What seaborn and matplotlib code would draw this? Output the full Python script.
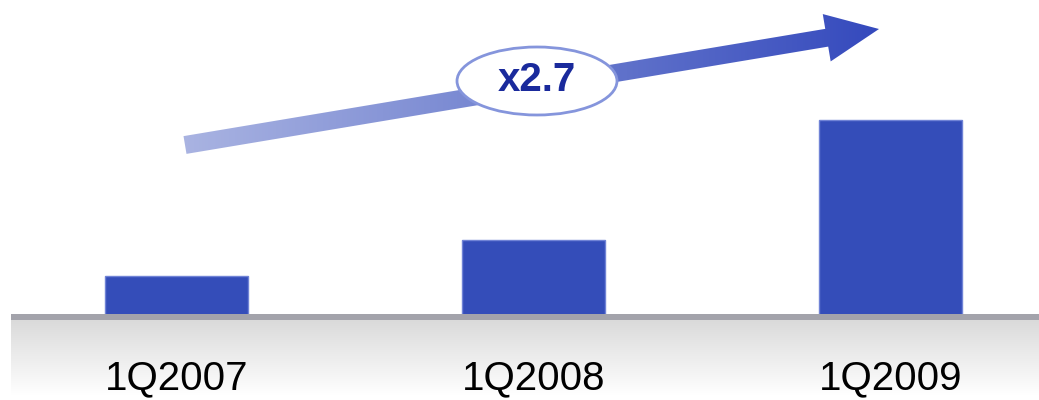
import numpy as np
import pandas as pd
import matplotlib
matplotlib.use("Agg")
import matplotlib.pyplot as plt
import seaborn as sns
from matplotlib.patches import Polygon, Ellipse, Rectangle
from matplotlib.colors import LinearSegmentedColormap

# ---- data ----
categories = ["1Q2007", "1Q2008", "1Q2009"]
values = [44, 80, 200]
growth_label = "x2.7"

sns.set_theme(style="white")
plt.rcParams["font.family"] = ["Liberation Sans", "DejaVu Sans"]

W, H = 1039, 400
fig = plt.figure(figsize=(W / 100, H / 100), dpi=100)

# background axes (pixel coords) for the grey gradient floor
bg = fig.add_axes([0, 0, 1, 1], zorder=0)
bg.set_xlim(0, W); bg.set_ylim(H, 0); bg.axis("off")
grad = np.linspace(0, 1, 256).reshape(-1, 1)
floor_cmap = LinearSegmentedColormap.from_list("floor", ["#d9d9d9", "#ffffff"])
bg.imshow(grad, cmap=floor_cmap, aspect="auto", extent=[11, W, 395, 318])

# main bar axes
ax = fig.add_axes([0, 80 / H, 1, 320 / H], zorder=1)
ax.patch.set_alpha(0)
df = pd.DataFrame({"period": categories, "value": values})
sns.barplot(data=df, x="period", y="value", color="#344db9", saturation=1,
            width=0.4, edgecolor="#7083d6", linewidth=1, ax=ax)
ax.set_xlim(-0.494, 2.416)
ax.set_ylim(0, 320)
ax.set_yticks([])
ax.set_xlabel(""); ax.set_ylabel("")
for s in ax.spines.values():
    s.set_visible(False)
ax.tick_params(axis="x", length=0, pad=28, labelsize=29, labelcolor="#000000")

# overlay axes: baseline, arrow, ellipse label
ov = fig.add_axes([0, 0, 1, 1], zorder=2)
ov.patch.set_alpha(0)
ov.set_xlim(0, W); ov.set_ylim(H, 0); ov.axis("off")
ov.add_patch(Rectangle((11, 314), W - 11, 6, facecolor="#a3a3ab", edgecolor="none"))

# arrow geometry (pixel coords)
tail = np.array([185.0, 145.0])
tip = np.array([879.0, 29.0])
d = (tip - tail) / np.linalg.norm(tip - tail)
n = np.array([-d[1], d[0]])
L = np.linalg.norm(tip - tail)
head_len, head_hw, shaft_hw = 53.0, 24.0, 9.0
base = tail + d * (L - head_len)
pts = [tail + n * shaft_hw, base + n * shaft_hw, base + n * head_hw, tip,
       base - n * head_hw, base - n * shaft_hw, tail - n * shaft_hw]
poly = Polygon(pts, closed=True, facecolor="none", edgecolor="none")
ov.add_patch(poly)
arrow_cmap = LinearSegmentedColormap.from_list("arr", ["#aab4e2", "#6f80cf", "#3449bd"])
gx = np.linspace(0, 1, 512).reshape(1, -1)
im = ov.imshow(gx, cmap=arrow_cmap, aspect="auto", extent=[180, 882, 160, 10], zorder=3)
im.set_clip_path(poly)

ov.add_patch(Ellipse((537, 81), 160, 68, facecolor="white", edgecolor="#8595dc", linewidth=2, zorder=4))
ov.text(537, 80, growth_label, ha="center", va="center", fontsize=29, fontweight="bold",
        color="#1a2a9c", zorder=5)

fig.savefig("out.png", dpi=100)
